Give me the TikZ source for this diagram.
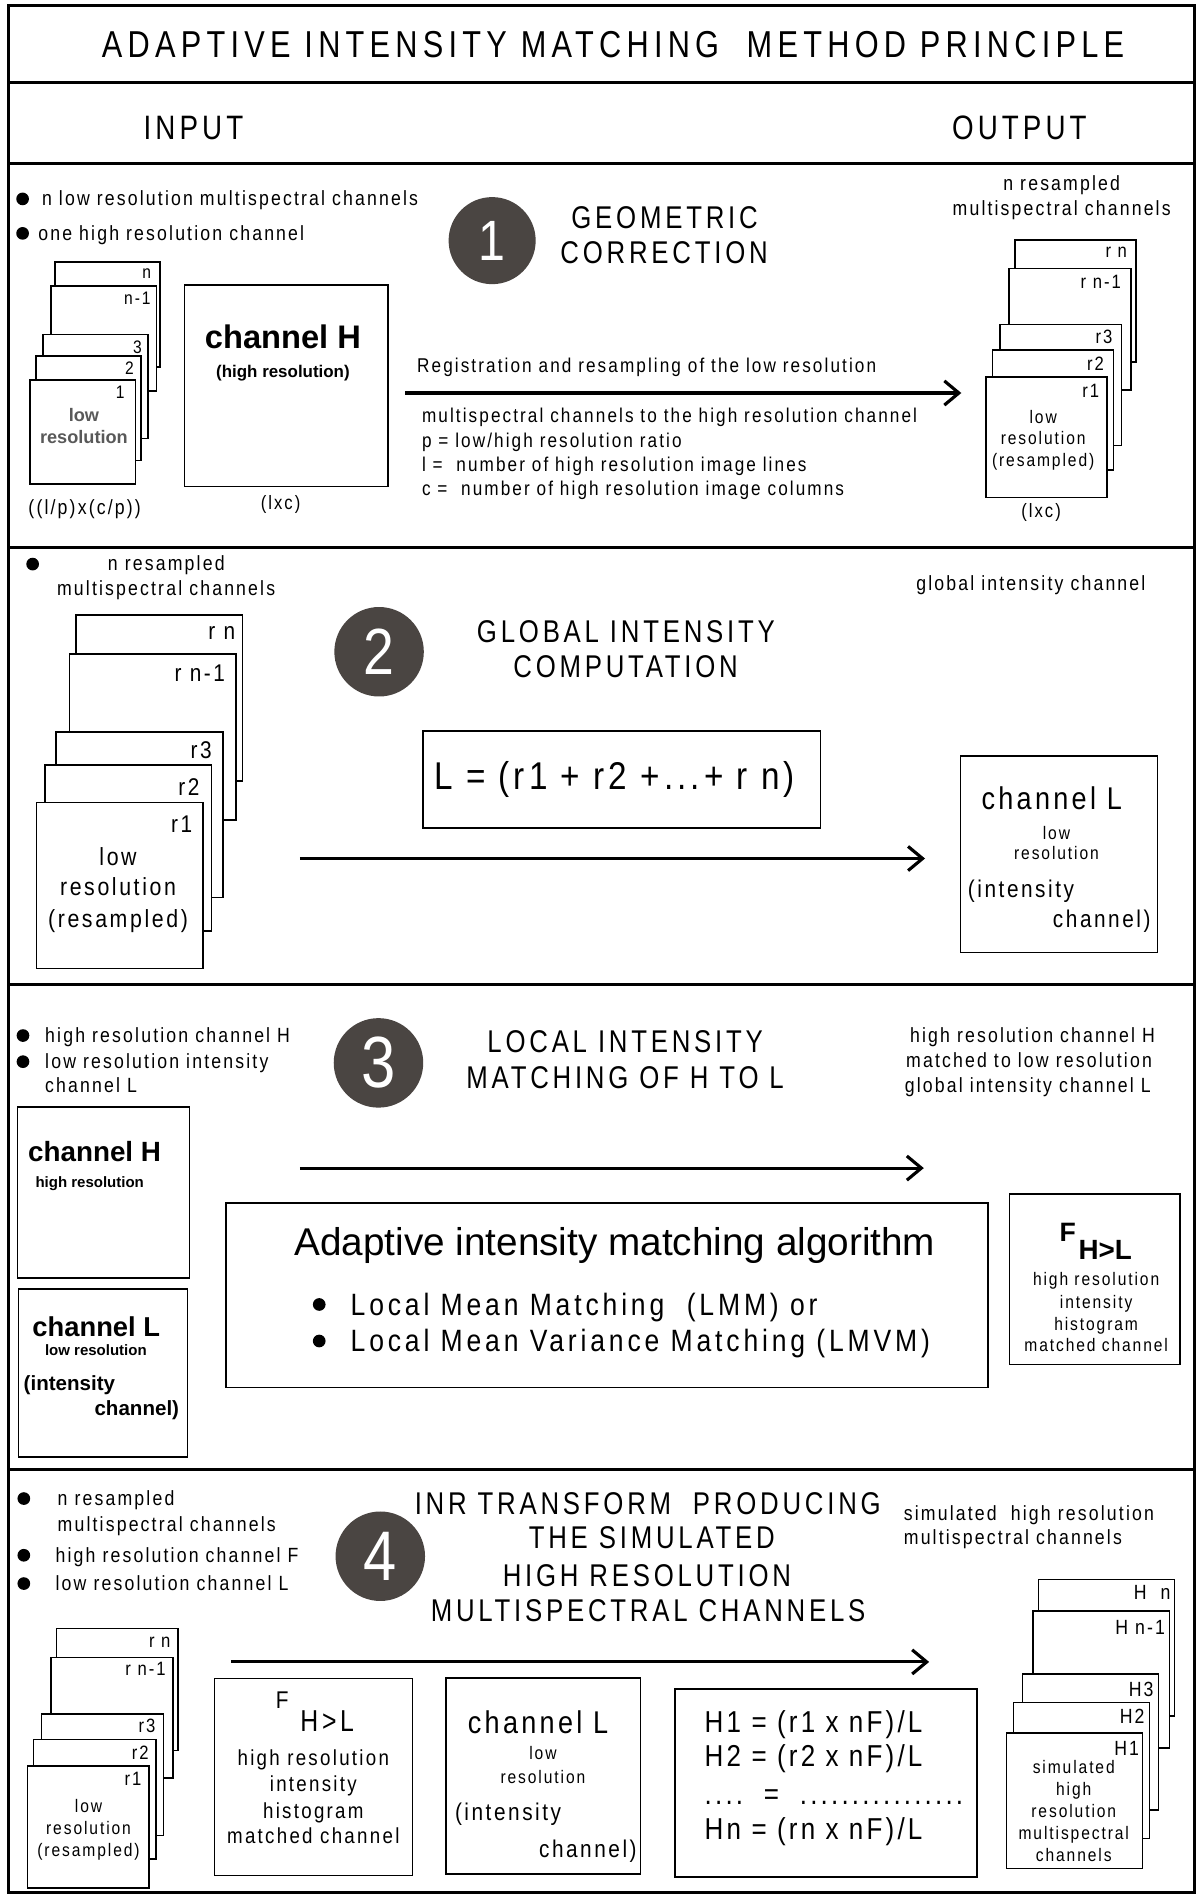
\documentclass[tikz,border=0pt]{standalone}
\usepackage{fontspec}
\setmainfont{Liberation Sans}
\newfontfamily\nf[FakeStretch=0.86,LetterSpace=10.5]{Liberation Sans}
\newfontfamily\nfw[FakeStretch=0.86,LetterSpace=12.5]{Liberation Sans}
\newfontfamily\hf[FakeStretch=0.82,LetterSpace=12]{Liberation Sans}
\newfontfamily\tf[FakeStretch=0.82,LetterSpace=14]{Liberation Sans}
\newfontfamily\dg[FakeStretch=0.85]{Liberation Sans}
\usetikzlibrary{arrows.meta}
\newcommand\fs[1]{\fontsize{#1}{#1}\selectfont}
\definecolor{circgray}{RGB}{74,69,66}
\tikzset{
 frame/.style={line width=2.6pt, draw=black},
 bxs/.style={draw=black, line width=1.3pt, fill=white, inner sep=0pt, outer sep=0pt, anchor=north west},
 T/.style 2 args={inner sep=0pt, outer sep=0pt, font=#1\fs{#2}, anchor=base, yshift={-0.36*#2pt}},
 dot/.style={circle, fill=black, minimum size=10.5pt, inner sep=0pt, outer sep=0pt},
 circ/.style={circle, fill=circgray, inner sep=0pt, text=white, minimum size=74pt},
 arr/.style={line width=2.6pt, -{Straight Barb[length=12pt, width=20pt, line width=2.6pt]}}
}
\newcommand\bx[5]{\node[bxs, minimum width={(#4-#2)*1pt}, minimum height={(#5-#3)*1pt}] (#1) at (#2,#3) {};}
\begin{document}
\begin{tikzpicture}[x=1pt,y=-1pt]
\fill[white] (0,0) rectangle (995,1568);
\useasboundingbox (0,0) rectangle (995,1568);

% ---------- frame ----------
\draw[frame] (7,4.5) rectangle (988,1565);
\foreach \yy in {68,135.5,452.5,814,1215} \draw[frame] (7,\yy) -- (988,\yy);

% ---------- header ----------
\node[T={\tf}{31}] (title) at (507,36.5) {ADAPTIVE INTENSITY MATCHING\ \ METHOD PRINCIPLE};
\node[T={\hf}{28}] (input) at (160,105.7) {INPUT};
\node[T={\hf}{28}] (output) at (843,105.7) {OUTPUT};

% ---------- section 1 ----------
\node[dot] (b11) at (18.7,164.5) {};
\node[T={\nf}{17}, anchor=base west] (t11) at (34.8,164) {n low resolution multispectral channels};
\node[dot] (b12) at (18.7,193) {};
\node[T={\nf}{17}, anchor=base west] (t12) at (31.7,193) {one high resolution channel};

\node[circ, minimum size=72pt, font=\dg\fs{47}] (c1) at (407,199) {1};
\node[T={\hf}{26}] (h11) at (549.6,179.2) {GEOMETRIC};
\node[T={\hf}{26}] (h12) at (549.2,208.9) {CORRECTION};

\bx{s1n}{45.5}{216.5}{132.5}{303.5}
\bx{s1m}{42}{236.5}{129.5}{323.5}
\bx{s1c}{35.6}{276.8}{122.5}{362.8}
\bx{s1b}{29.6}{294.5}{116.4}{381}
\bx{s1a}{24.8}{314.3}{112}{400.3}
\node[T={\nf}{15}, anchor=base east] (l1n) at (125,224.7) {n};
\node[T={\nf}{15}, anchor=base east] (l1m) at (124.5,246.8) {n-1};
\node[T={\nf}{15}, anchor=base east] (l1c) at (117.2,286.7) {3};
\node[T={\nf}{15}, anchor=base east] (l1b) at (110.6,304.7) {2};
\node[T={\nf}{15}, anchor=base east] (l1a) at (103,324) {1};
\node[T={\bfseries}{15}, text=black!65] (l1low) at (69.4,343) {low};
\node[T={\bfseries}{15}, text=black!65] (l1res) at (69.4,361) {resolution};
\node[T={\nf}{17}] (dim1) at (70,419) {((l/p)x(c/p))};

\bx{chH1}{152.7}{235.7}{320.7}{402.5}
\node[T={\bfseries}{27}] (chH1a) at (234,278.5) {channel H};
\node[T={\bfseries}{14}] (chH1b) at (234,307.4) {(high resolution)};
\node[T={\nf}{16}] (dim2) at (232,416) {(lxc)};

\coordinate (a1s) at (335,325);
\coordinate (a1e) at (795,325);
\draw[arr] (a1s) -- (a1e);
\node[T={\nf}{16.5}, anchor=base west] (r1) at (345,302) {Registration and resampling of the low resolution};
\node[T={\nf}{16.5}, anchor=base west] (r2) at (349,343.3) {multispectral channels to the high resolution channel};
\node[T={\nf}{16.5}, anchor=base west] (r3) at (349,364) {p = low/high resolution ratio};
\node[T={\nf}{16.5}, anchor=base west] (r4) at (349,383.8) {l =\ \ number of high resolution image lines};
\node[T={\nf}{16.5}, anchor=base west] (r5) at (349,404) {c =\ \ number of high resolution image columns};

\node[T={\nf}{17}] (o1a) at (878,151.6) {n resampled};
\node[T={\nf}{17}] (o1b) at (878,172.3) {multispectral channels};
\bx{o1n}{839.2}{198.5}{939.4}{299.2}
\bx{o1m}{834.4}{222}{935.3}{322.6}
\bx{o1c}{827.1}{268.3}{927.6}{368.6}
\bx{o1bb}{820.7}{289.5}{921}{388.8}
\bx{o1aa}{815.4}{312}{915.6}{411.3}
\node[T={\nf}{16}, anchor=base east] (lo1n) at (932,206.8) {r n};
\node[T={\nf}{16}, anchor=base east] (lo1m) at (927,233) {r n-1};
\node[T={\nf}{16}, anchor=base east] (lo1c) at (920,278.5) {r3};
\node[T={\nf}{16}, anchor=base east] (lo1b) at (913,301) {r2};
\node[T={\nf}{16}, anchor=base east] (lo1a) at (909,322.6) {r1};
\node[T={\nf}{15}] (o1low) at (862.7,344.6) {low};
\node[T={\nf}{15}] (o1res) at (862.7,362.6) {resolution};
\node[T={\nf}{15}] (o1rsm) at (862.7,380.5) {(resampled)};
\node[T={\nf}{16}] (dim3) at (861,421.8) {(lxc)};

% ---------- section 2 ----------
\node[dot] (b21) at (27,466.5) {};
\node[T={\nf}{17}] (t21) at (137.5,465.8) {n resampled};
\node[T={\nf}{17}] (t22) at (137.4,486) {multispectral channels};
\bx{s2n}{62.7}{508.7}{200.4}{646}
\bx{s2m}{57.3}{541}{195}{678.3}
\bx{s2c}{46.1}{605.2}{184.5}{742.2}
\bx{s2b}{37.2}{632.8}{175}{770}
\bx{s2a}{30.2}{663.6}{168}{801}
\node[T={\nf}{20}, anchor=base east] (l2n) at (194.5,522) {r n};
\node[T={\nf}{20}, anchor=base east] (l2m) at (186,556.8) {r n-1};
\node[T={\nf}{20}, anchor=base east] (l2c) at (175,620) {r3};
\node[T={\nf}{20}, anchor=base east] (l2b) at (165,650.7) {r2};
\node[T={\nf}{20}, anchor=base east] (l2a) at (159,681) {r1};
\node[T={\nf}{20.5}] (s2low) at (97.6,708.6) {low};
\node[T={\nf}{20.5}] (s2res) at (97.6,733.4) {resolution};
\node[T={\nf}{20.5}] (s2rsm) at (97.6,759.4) {(resampled)};

\node[circ, font=\dg\fs{54}] (c2) at (313.5,539) {2};
\node[T={\hf}{26}] (h21) at (517.6,522) {GLOBAL INTENSITY};
\node[T={\hf}{26}] (h22) at (517.4,550.7) {COMPUTATION};

\bx{fL}{350}{604.4}{678.6}{684.6}
\node[T={\nf}{32}] (fLt) at (508.2,641.7) {L = (r1 + r2 +...+ r n)};
\coordinate (a2s) at (248,710);
\coordinate (a2e) at (765,710);
\draw[arr] (a2s) -- (a2e);

\node[T={\nf}{17}, anchor=base west] (t23) at (757.8,482.3) {global intensity channel};
\bx{chL2}{794.4}{625}{957.3}{787.7}
\node[T={\nf}{26}] (chL2a) at (869.8,660.3) {channel L};
\node[T={\nf}{15}] (chL2b) at (873.7,689) {low};
\node[T={\nf}{15}] (chL2c) at (873.7,705.7) {resolution};
\node[T={\nf}{20}, anchor=base west] (chL2d) at (800.5,735.3) {(intensity};
\node[T={\nf}{20}, anchor=base east] (chL2e) at (951.5,759.6) {channel)};

% ---------- section 3 ----------
\node[dot] (b31) at (19,856.4) {};
\node[dot] (b32) at (19,878) {};
\node[T={\nf}{17}, anchor=base west] (t31) at (37.4,856) {high resolution channel H};
\node[T={\nf}{17}, anchor=base west] (t32) at (37.4,877.5) {low resolution intensity};
\node[T={\nf}{17}, anchor=base west] (t33) at (37.4,897.5) {channel L};

\node[circ, font=\dg\fs{60}] (c3) at (313,879) {3};
\node[T={\hf}{26}] (h31) at (517,861) {LOCAL INTENSITY};
\node[T={\hf}{26}] (h32) at (517,891) {MATCHING OF H TO L};

\node[T={\nf}{17}] (t34) at (853.9,856) {high resolution channel H};
\node[T={\nf}{17}] (t35) at (851,876.8) {matched to low resolution};
\node[T={\nf}{17}] (t36) at (850,897.5) {global intensity channel L};

\bx{chH3}{14.3}{915.4}{156.8}{1056.8}
\node[T={\bfseries}{23}] (chH3a) at (78.2,952.6) {channel H};
\node[T={\bfseries}{12.4}] (chH3b) at (74.2,977.4) {high resolution};
\bx{chL3}{15.3}{1066.2}{155}{1204.9}
\node[T={\bfseries}{22.6}] (chL3a) at (79.6,1097.3) {channel L};
\node[T={\bfseries}{12.4}] (chL3b) at (79.3,1116.6) {low resolution};
\node[T={\bfseries}{17}, anchor=base west] (chL3c) at (19.6,1144) {(intensity};
\node[T={\bfseries}{17}, anchor=base east] (chL3d) at (148.1,1164.7) {channel)};

\coordinate (a3s) at (248,966);
\coordinate (a3e) at (764,966);
\draw[arr] (a3s) -- (a3e);

\bx{alg}{186.7}{995}{817}{1147.5}
\node[T={}{32}] (algt) at (508.5,1027) {Adaptive intensity matching algorithm};
\node[dot] (b33) at (264,1078.8) {};
\node[dot] (b34) at (264,1109) {};
\node[T={\nfw}{25.5}, anchor=base west] (lmm) at (290,1078.7) {Local Mean Matching\ \ (LMM) or};
\node[T={\nfw}{25.5}, anchor=base west] (lmvm) at (290,1108.5) {Local Mean Variance Matching (LMVM)};

\bx{fhl3}{835}{987.6}{976}{1128.3}
\node[T={\bfseries}{22}] (fhl3F) at (883,1019) {F};
\node[T={\bfseries}{23}] (fhl3H) at (914,1033.2) {H>L};
\node[T={\nf}{15}] (fhl3a) at (906.5,1057.3) {high resolution};
\node[T={\nf}{15}] (fhl3b) at (906.5,1076.7) {intensity};
\node[T={\nf}{15}] (fhl3c) at (906.5,1094.6) {histogram};
\node[T={\nf}{15}] (fhl3d) at (906.5,1112.5) {matched channel};

% ---------- section 4 ----------
\node[dot] (b41) at (19.7,1239.3) {};
\node[dot] (b42) at (19.7,1286.2) {};
\node[dot] (b43) at (19.7,1309.6) {};
\node[T={\nf}{17}, anchor=base west] (t41) at (47.7,1239.3) {n resampled};
\node[T={\nf}{17}, anchor=base west] (t42) at (47.7,1260.8) {multispectral channels};
\node[T={\nf}{17}, anchor=base west] (t43) at (46,1286.2) {high resolution channel F};
\node[T={\nf}{17}, anchor=base west] (t44) at (46,1309.6) {low resolution channel L};

\node[circ, font=\dg\fs{58}] (c4) at (314.5,1287) {4};
\node[T={\hf}{26}] (h41) at (535.7,1242.8) {INR TRANSFORM\ \ PRODUCING};
\node[T={\hf}{26}] (h42) at (539,1271.4) {THE SIMULATED};
\node[T={\hf}{26}] (h43) at (535,1302.4) {HIGH RESOLUTION};
\node[T={\hf}{26}] (h44) at (536,1332) {MULTISPECTRAL CHANNELS};

\node[T={\nf}{17}, anchor=base west] (t45) at (747.5,1251.7) {simulated\ \ high resolution};
\node[T={\nf}{17}, anchor=base west] (t46) at (747.5,1271) {multispectral channels};

\bx{s4n}{46.8}{1346.8}{147.2}{1447.5}
\bx{s4m}{42.3}{1370.8}{143.1}{1470.4}
\bx{s4c}{34.3}{1417.7}{135.2}{1517.8}
\bx{s4b}{27.7}{1438.4}{128.8}{1537.6}
\bx{s4a}{22.9}{1460.7}{123.4}{1561.3}
\node[T={\nf}{16}, anchor=base east] (l4n) at (141,1356.5) {r n};
\node[T={\nf}{16}, anchor=base east] (l4m) at (137,1380) {r n-1};
\node[T={\nf}{16}, anchor=base east] (l4c) at (128.6,1427.4) {r3};
\node[T={\nf}{16}, anchor=base east] (l4b) at (123,1449.4) {r2};
\node[T={\nf}{16}, anchor=base east] (l4a) at (117,1471) {r1};
\node[T={\nf}{15}] (s4low) at (73.2,1493.5) {low};
\node[T={\nf}{15}] (s4res) at (73.2,1511.7) {resolution};
\node[T={\nf}{15}] (s4rsm) at (73.2,1530.2) {(resampled)};

\coordinate (a4s) at (191,1374.4);
\coordinate (a4e) at (768.4,1374.4);
\draw[arr] (a4s) -- (a4e);

\bx{fhl4}{177.5}{1388.2}{341.3}{1550.9}
\node[T={\nf}{20}] (fhl4F) at (233.5,1406) {F};
\node[T={\hf}{25}] (fhl4H) at (270.6,1422.7) {H>L};
\node[T={\nf}{18}] (fhl4a) at (259.1,1453.8) {high resolution};
\node[T={\nf}{18}] (fhl4b) at (259.1,1475) {intensity};
\node[T={\nf}{18}] (fhl4c) at (259.1,1497) {histogram};
\node[T={\nf}{18}] (fhl4d) at (259.1,1518.3) {matched channel};

\bx{chL4}{369}{1387.6}{529.7}{1550}
\node[T={\nf}{26}] (chL4a) at (445,1424) {channel L};
\node[T={\nf}{15}] (chL4b) at (449,1450) {low};
\node[T={\nf}{15}] (chL4c) at (449,1469.5) {resolution};
\node[T={\nf}{20}, anchor=base west] (chL4d) at (376.3,1498.5) {(intensity};
\node[T={\nf}{20}, anchor=base east] (chL4e) at (526.5,1528.8) {channel)};

\bx{hf4}{558.3}{1397}{808}{1552.2}
\node[T={\nf}{25}, anchor=base west] (hf4a) at (582.8,1424) {H1 = (r1 x nF)/L};
\node[T={\nf}{25}, anchor=base west] (hf4b) at (582.8,1451.6) {H2 = (r2 x nF)/L};
\node[T={\nf}{25}, anchor=base west] (hf4c) at (582.8,1483.3) {....\ \ =\ \ ................};
\node[T={\nf}{25}, anchor=base west] (hf4d) at (582.8,1512.3) {Hn = (rn x nF)/L};

\bx{o4n}{859}{1306.3}{971.2}{1419}
\bx{o4m}{854.2}{1332.2}{967}{1445.6}
\bx{o4c}{845.6}{1384.6}{958.2}{1497}
\bx{o4b}{838.3}{1408}{950.5}{1520.5}
\bx{o4a}{832.5}{1433.2}{944.8}{1545.3}
\node[T={\nf}{17}, anchor=base east] (lo4n) at (968,1316.5) {H\ \ n};
\node[T={\nf}{17}, anchor=base east] (lo4m) at (963.5,1345.5) {H n-1};
\node[T={\nf}{17}, anchor=base east] (lo4c) at (954,1397) {H3};
\node[T={\nf}{17}, anchor=base east] (lo4b) at (946.5,1419) {H2};
\node[T={\nf}{17}, anchor=base east] (lo4a) at (942,1446) {H1};
\node[T={\nf}{15}] (o4t1) at (888,1461.3) {simulated};
\node[T={\nf}{15}] (o4t2) at (888,1479.2) {high};
\node[T={\nf}{15}] (o4t3) at (888,1497.6) {resolution};
\node[T={\nf}{15}] (o4t4) at (888,1515.8) {multispectral};
\node[T={\nf}{15}] (o4t5) at (888,1533.8) {channels};
\end{tikzpicture}
\end{document}
